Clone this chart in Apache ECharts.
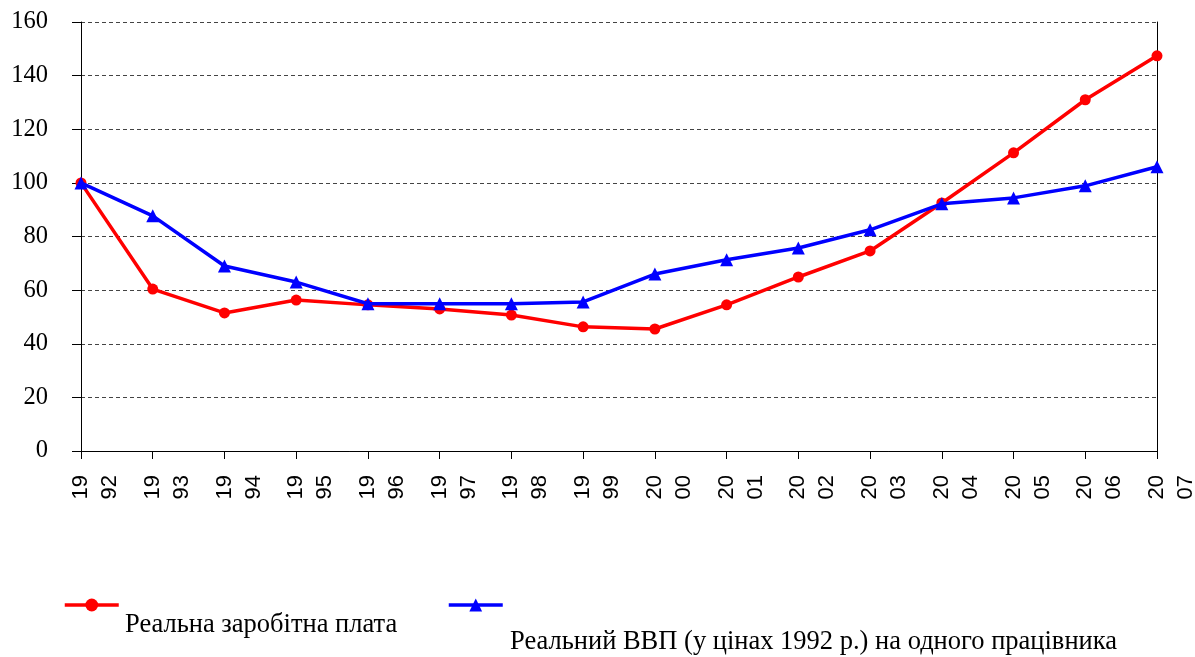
<!DOCTYPE html>
<html>
<head>
<meta charset="utf-8">
<script src="https://cdn.jsdelivr.net/npm/echarts@6/dist/echarts.min.js"></script>
<style>
  html, body { margin: 0; padding: 0; background: #fff; }
  #main { width: 1195px; height: 657px; }
</style>
</head>
<body>
<div id="main"></div>
<script>
// роки
var years = ["1992", "1993", "1994", "1995", "1996", "1997", "1998", "1999",
  "2000", "2001", "2002", "2003", "2004", "2005", "2006", "2007"];
// назви рядів
var nameWage = "Реальна заробітна плата";
var nameGdp = "Реальний ВВП (у цінах 1992 р.) на одного працівника";
// реальна заробітна плата, 1992 = 100
var wage = [100, 60.4, 51.5, 56.3, 54.5, 53, 50.7, 46.3, 45.5, 54.5, 64.9, 74.6, 92.5, 111.2, 131, 147.4];
// реальний ВВП на одного працівника, 1992 = 100
var gdp = [100, 87.7, 69, 63, 54.9, 54.9, 54.9, 55.6, 66, 71.3, 75.7, 82.5, 92.2, 94.4, 98.9, 106];

var myChart = echarts.init(document.getElementById("main"));

myChart.setOption({
  animation: false,
  grid: { left: 81, right: 38, top: 22, bottom: 206, outerBoundsMode: "none" },
  legend: [
    {
      data: [nameWage],
      left: 63, top: 597, padding: 0,
      itemWidth: 54, itemHeight: 16,
      lineStyle: { width: 3.5 },
      formatter: function () { return ""; },
      selectedMode: false
    },
    {
      data: [nameGdp],
      left: 447, top: 597, padding: 0,
      itemWidth: 54, itemHeight: 16,
      lineStyle: { width: 3.5 },
      formatter: function () { return ""; },
      selectedMode: false
    }
  ],
  graphic: [
    {
      type: "text", left: 125, top: 612,
      style: { text: nameWage, fontFamily: "Liberation Serif", fontSize: 26.5, fill: "#000" }
    },
    {
      type: "text", left: 510, top: 629,
      style: { text: nameGdp, fontFamily: "Liberation Serif", fontSize: 26.5, fill: "#000" }
    }
  ],
  xAxis: {
    type: "category",
    data: years,
    boundaryGap: false,
    axisLine: { lineStyle: { color: "#000", width: 1 } },
    axisTick: { show: true, interval: 0, length: 8, lineStyle: { color: "#000" } },
    axisLabel: {
      interval: 0,
      rotate: 90,
      margin: 24,
      color: "#000",
      fontFamily: "Liberation Sans",
      fontSize: 22,
      lineHeight: 29,
      // порожній перший рядок зсуває "19" під поділку
      formatter: function (v) { return "\n" + v.slice(0, 2) + "\n" + v.slice(2); }
    },
    splitLine: { show: false }
  },
  yAxis: [
    {
      type: "value",
      min: 0, max: 160, interval: 20,
      axisLine: { show: true, lineStyle: { color: "#000", width: 1 } },
      axisTick: { show: true, length: 9, lineStyle: { color: "#000" } },
      axisLabel: {
        margin: 33, color: "#000", fontFamily: "Liberation Serif", fontSize: 24.5,
        padding: [5, 0, 0, 0]
      },
      splitLine: { show: true, lineStyle: { color: "#444", type: [4, 3], width: 1 } }
    },
    {
      type: "value",
      position: "right",
      min: 0, max: 160, interval: 20,
      axisLine: { show: true, lineStyle: { color: "#000", width: 1 } },
      axisTick: { show: false },
      axisLabel: { show: false },
      splitLine: { show: false }
    }
  ],
  series: [
    {
      name: nameWage,
      type: "line",
      data: wage,
      symbol: "circle",
      symbolSize: 11,
      color: "#ff0000",
      lineStyle: { width: 3.5, color: "#ff0000" },
      itemStyle: { color: "#ff0000" },
      z: 2
    },
    {
      name: nameGdp,
      type: "line",
      data: gdp,
      symbol: "triangle",
      symbolSize: 13,
      color: "#0000ff",
      lineStyle: { width: 3.5, color: "#0000ff" },
      itemStyle: { color: "#0000ff" },
      z: 3
    }
  ]
});
</script>
</body>
</html>
